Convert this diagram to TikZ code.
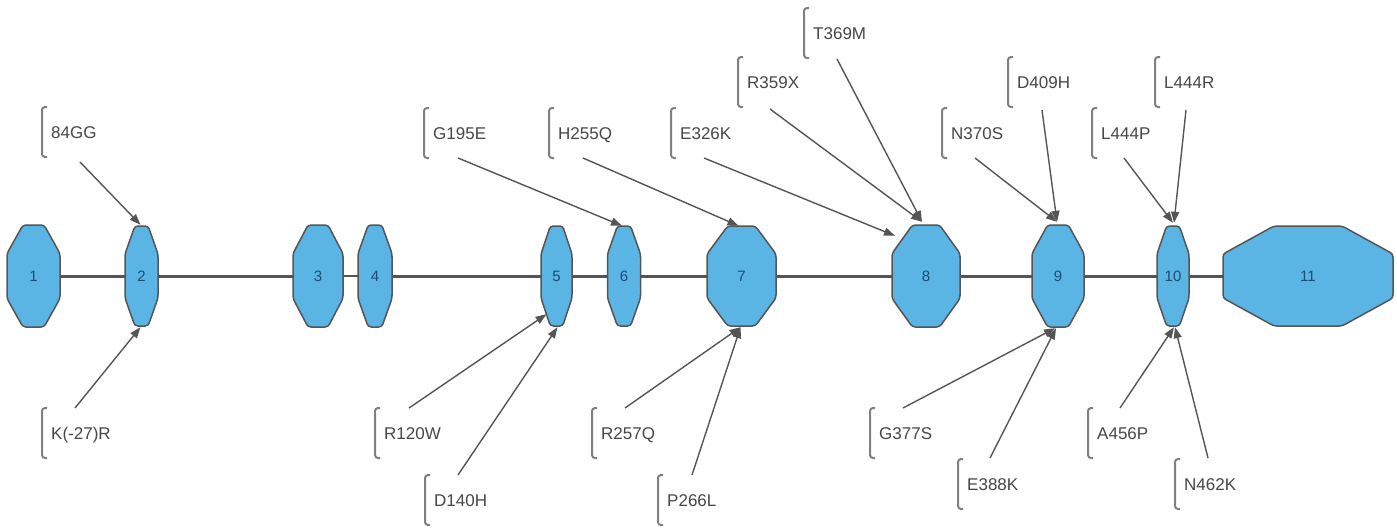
\documentclass[tikz,border=0pt]{standalone}
\usepackage{fontspec}
\setmainfont{Liberation Sans}
\usetikzlibrary{arrows.meta,calc}
\definecolor{exfill}{RGB}{90,180,228}
\definecolor{edgec}{RGB}{85,85,85}
\definecolor{txtc}{RGB}{70,70,70}
\definecolor{numc}{RGB}{30,75,115}
\tikzset{
  exonshape/.style={fill=exfill, draw=edgec, line width=1.5pt, rounded corners=3pt},
  exonnum/.style={inner sep=0pt, text=numc, font=\fontsize{15}{18}\selectfont},
  mutlbl/.style={inner sep=0pt, anchor=base west, text=txtc, font=\fontsize{17}{20}\selectfont},
  bracketline/.style={draw=gray, line width=2pt, rounded corners=3pt},
  mutarrow/.style={draw=edgec, line width=1.4pt, -{Triangle[length=11pt,width=8pt]}},
  backbone/.style={draw=edgec, line width=3pt},
  thinbone/.style={draw=edgec, line width=1.2pt}
}
\newcommand\exon[5]{%
  \filldraw[exonshape] ({#2-0.5*#3},{276-0.22*#4}) -- ({#2-0.2*#3},{276-0.5*#4}) -- ({#2+0.2*#3},{276-0.5*#4}) -- ({#2+0.5*#3},{276-0.22*#4}) -- ({#2+0.5*#3},{276+0.22*#4}) -- ({#2+0.2*#3},{276+0.5*#4}) -- ({#2-0.2*#3},{276+0.5*#4}) -- ({#2-0.5*#3},{276+0.22*#4}) -- cycle;
  \node[exonnum, minimum width=#3pt, minimum height=#4pt] (#1) at (#2,276) {#5};}
\newcommand\mut[4]{%
  \node[mutlbl] (#1) at ({#2+9},{#3+6}) {#4};
  \draw[bracketline] ({#2+5},{#3-25}) -- ({#2},{#3-25}) -- ({#2},{#3+25}) -- ({#2+5},{#3+25});}
\begin{document}
\begin{tikzpicture}[x=1pt,y=-1pt]
\useasboundingbox (0,0) rectangle (1397,528);
% backbone (drawn first, behind exons)
\coordinate (b1) at (60,276);
\coordinate (b3) at (343,276);
\coordinate (b4) at (358,276);
\coordinate (b11) at (1223,276);
\draw[backbone] (b1) -- (b3);
\draw[thinbone] (b3) -- (b4);
\draw[backbone] (b4) -- (b11);
% exons
\exon{e1}{33.5}{53}{102}{1}
\exon{e2}{141.5}{33}{100}{2}
\exon{e3}{318}{50}{102}{3}
\exon{e4}{375}{34}{102}{4}
\exon{e5}{556.5}{31}{100}{5}
\exon{e6}{624}{33}{100}{6}
\exon{e7}{741.5}{69}{100}{7}
\exon{e8}{926}{68}{102}{8}
\exon{e9}{1058}{52}{102}{9}
\exon{e10}{1173}{32}{100}{10}
\exon{e11}{1308}{170}{100}{11}
% mutation labels
\mut{m84GG}{42}{132}{84GG}
\mut{mK27R}{42}{433}{K(-27)R}
\mut{mG195E}{424}{133}{G195E}
\mut{mH255Q}{549}{133}{H255Q}
\mut{mE326K}{671}{133}{E326K}
\mut{mR359X}{738}{82}{R359X}
\mut{mT369M}{804}{33}{T369M}
\mut{mN370S}{942}{133}{N370S}
\mut{mD409H}{1008}{82}{D409H}
\mut{mL444P}{1092}{133}{L444P}
\mut{mL444R}{1155}{82}{L444R}
\mut{mR120W}{375}{433}{R120W}
\mut{mD140H}{425}{500}{D140H}
\mut{mR257Q}{592}{433}{R257Q}
\mut{mP266L}{658}{500}{P266L}
\mut{mG377S}{870}{433}{G377S}
\mut{mE388K}{958}{484}{E388K}
\mut{mA456P}{1088}{433}{A456P}
\mut{mN462K}{1175}{484}{N462K}
% arrow start points
\coordinate (s84GG) at (80,162);
\coordinate (sK27R) at (75,408);
\coordinate (sG195E) at (458,158);
\coordinate (sH255Q) at (583,158);
\coordinate (sE326K) at (704,158);
\coordinate (sR359X) at (770,109);
\coordinate (sT369M) at (837,59);
\coordinate (sN370S) at (975,158);
\coordinate (sD409H) at (1042,110);
\coordinate (sL444P) at (1124,158);
\coordinate (sL444R) at (1186,110);
\coordinate (sR120W) at (409,408);
\coordinate (sD140H) at (458,475);
\coordinate (sR257Q) at (625,408);
\coordinate (sP266L) at (692,475);
\coordinate (sG377S) at (903,408);
\coordinate (sE388K) at (990,458);
\coordinate (sA456P) at (1120,408);
\coordinate (sN462K) at (1208,458);
% arrows
\draw[mutarrow] (s84GG) -- ($(e2.north)+(-1,-1)$);
\draw[mutarrow] (sK27R) -- ($(e2.south)+(-1,1)$);
\draw[mutarrow] (sG195E) -- ($(e6.north)+(-2,0)$);
\draw[mutarrow] (sH255Q) -- ($(e7.north)+(-3,0)$);
\draw[mutarrow] (sE326K) -- ($(e8.north)+(-31,11)$);
\draw[mutarrow] (sR359X) -- ($(e8.north)+(-4,-3)$);
\draw[mutarrow] (sT369M) -- ($(e8.north)+(-4,-3)$);
\draw[mutarrow] (sN370S) -- ($(e9.north)+(-1,-3)$);
\draw[mutarrow] (sD409H) -- ($(e9.north)+(-1,-3)$);
\draw[mutarrow] (sL444P) -- ($(e10.north)+(0,-3)$);
\draw[mutarrow] (sL444R) -- ($(e10.north)+(1,-3)$);
\draw[mutarrow] (sR120W) -- ($(e5.south)+(-10,-12)$);
\draw[mutarrow] (sD140H) -- ($(e5.south)+(1,1)$);
\draw[mutarrow] (sR257Q) -- ($(e7.south)+(-1,1)$);
\draw[mutarrow] (sP266L) -- ($(e7.south)+(-1,1)$);
\draw[mutarrow] (sG377S) -- ($(e9.south)+(-3,1)$);
\draw[mutarrow] (sE388K) -- ($(e9.south)+(-2,1)$);
\draw[mutarrow] (sA456P) -- ($(e10.south)+(1,1)$);
\draw[mutarrow] (sN462K) -- ($(e10.south)+(2,1)$);
\end{tikzpicture}
\end{document}
